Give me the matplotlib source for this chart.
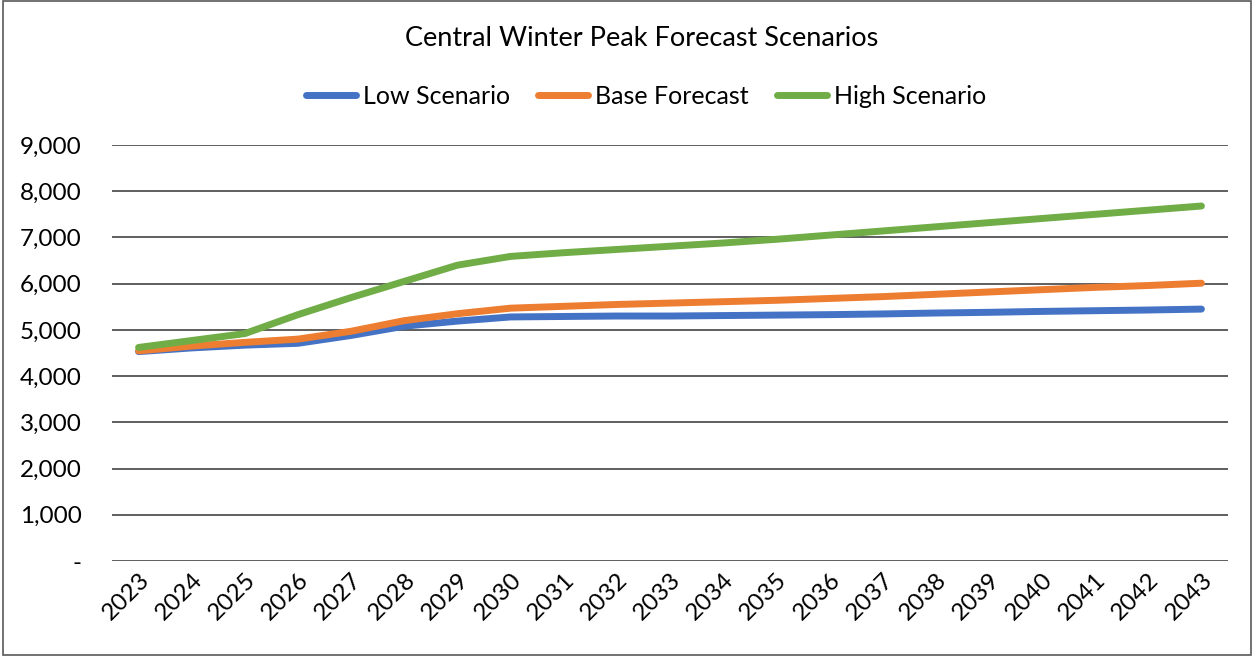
import numpy as np
import matplotlib.pyplot as plt
from matplotlib.ticker import FuncFormatter

years = list(range(2023, 2044))
low = [4530, 4610, 4670, 4710, 4880, 5080, 5190, 5280, 5290, 5300, 5300,
       5310, 5320, 5330, 5345, 5365, 5380, 5400, 5415, 5430, 5450]
base = [4545, 4650, 4730, 4800, 4970, 5200, 5350, 5470, 5510, 5550, 5580,
        5610, 5640, 5680, 5720, 5770, 5820, 5870, 5920, 5960, 6010]
high = [4620, 4770, 4920, 5330, 5700, 6050, 6400, 6590, 6670, 6740, 6810,
        6880, 6960, 7050, 7140, 7230, 7320, 7410, 7500, 7590, 7680]

plt.rcParams['font.family'] = ['Lato', 'DejaVu Sans']

fig = plt.figure(figsize=(12.54, 6.56), dpi=100)
ax = fig.add_axes([112/1254, 1-561/656, (1228-112)/1254, (561-145)/656])

x = np.arange(len(years))
ax.plot(x, low, color="#4472C4", lw=5, solid_capstyle="round", label="Low Scenario")
ax.plot(x, base, color="#ED7D31", lw=5, solid_capstyle="round", label="Base Forecast")
ax.plot(x, high, color="#70AD47", lw=5, solid_capstyle="round", label="High Scenario")

ax.set_xlim(-0.5, len(years)-0.5)
ax.set_ylim(0, 9000)
ax.set_yticks(np.arange(0, 9001, 1000))
ax.yaxis.set_major_formatter(FuncFormatter(lambda v, p: "-" if v == 0 else f"{int(v):,}"))
ax.set_xticks(x)
ax.set_xticklabels([str(y) for y in years], rotation=45, ha="right", rotation_mode="anchor")
ax.grid(axis="y", color="#333333", lw=1.1)
ax.set_axisbelow(True)
for s in ax.spines.values():
    s.set_visible(False)
ax.tick_params(length=0, labelsize=17.5, colors="black")
ax.tick_params(axis="y", pad=22)
ax.tick_params(axis="x", pad=6)

fig.text(642/1254, 1-38/656, "Central Winter Peak Forecast Scenarios", ha="center", va="center", fontsize=19.5)
fig.legend(loc="center", bbox_to_anchor=(646/1254, 1-96/656), ncol=3, frameon=False,
           fontsize=18, handlelength=2.0, handletextpad=0.3, columnspacing=1.1)

# outer frame
fig.patches.append(plt.Rectangle((0.002, 0.002), 0.996, 0.996, transform=fig.transFigure,
                                 fill=False, edgecolor="#595959", lw=1.2))

fig.savefig("out.png", dpi=100)
